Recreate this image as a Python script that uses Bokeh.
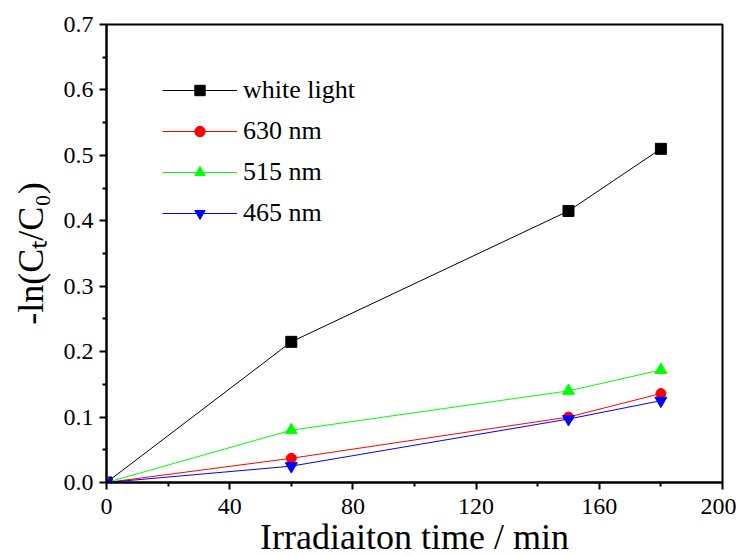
from bokeh.plotting import figure
from bokeh.models import Legend, LegendItem, FixedTicker, NumeralTickFormatter, Range1d
from bokeh.embed import file_html
from bokeh.resources import INLINE

time_min = [0, 60, 150, 180]
white_light = [0.0, 0.215, 0.415, 0.51]
nm630 = [0.0, 0.037, 0.10, 0.136]
nm515 = [0.0, 0.08, 0.14, 0.172]
nm465 = [0.0, 0.025, 0.097, 0.125]

x_ticks = [0, 40, 80, 120, 160, 200]
x_minor = [20, 60, 100, 140, 180]
y_ticks = [0.0, 0.1, 0.2, 0.3, 0.4, 0.5, 0.6, 0.7]
y_minor = [0.05, 0.15, 0.25, 0.35, 0.45, 0.55, 0.65]

FONT = "Liberation Serif"

p = figure(output_backend="svg", toolbar_location=None,
           frame_width=616, frame_height=458,
           min_border_left=106, min_border_top=24, min_border_right=14, min_border_bottom=50,
           x_range=Range1d(0, 200), y_range=Range1d(0, 0.7))
p.background_fill_color = "white"
p.border_fill_color = "white"
p.xgrid.visible = False
p.ygrid.visible = False
p.outline_line_color = "black"
p.outline_line_width = 2
p.outline_line_alpha = 1

for ax in (p.xaxis[0], p.yaxis[0]):
    ax.axis_line_width = 2
    ax.major_tick_line_width = 2
    ax.minor_tick_line_width = 2
    ax.major_tick_out = 7
    ax.major_tick_in = 0
    ax.minor_tick_out = 4
    ax.minor_tick_in = 0
    ax.major_label_text_font = FONT
    ax.major_label_text_font_size = "24px"
    ax.major_label_text_color = "black"
    ax.axis_label_text_font = FONT
    ax.axis_label_text_font_size = "36px"
    ax.axis_label_text_font_style = "normal"
    ax.axis_label_text_color = "black"
    ax.major_label_standoff = 6

p.xaxis[0].major_label_standoff = 9
p.xaxis[0].ticker = FixedTicker(ticks=x_ticks, minor_ticks=x_minor)
p.yaxis[0].ticker = FixedTicker(ticks=y_ticks, minor_ticks=y_minor)
p.yaxis[0].formatter = NumeralTickFormatter(format="0.0")
p.xaxis[0].axis_label = "Irradiaiton time / min"
p.yaxis[0].axis_label = "-ln(C\u209c/C\u2080)"
p.xaxis[0].axis_label_standoff = 0
p.yaxis[0].axis_label_standoff = 10

series = [
    ("white light", white_light, "black", "square", 11),
    ("630 nm", nm630, "red", "circle", 10),
    ("515 nm", nm515, "#00ff00", "triangle", 12),
    ("465 nm", nm465, "blue", "inverted_triangle", 12),
]
items = []
for name, ys, col, mk, sz in series:
    r1 = p.line(time_min, ys, line_color=col, line_width=1)
    r2 = p.scatter(time_min, ys, marker=mk, size=sz, fill_color=col, line_color=col)
    items.append(LegendItem(label=name, renderers=[r1, r2]))

legend = Legend(items=items, location=(56, 254), orientation="vertical")
legend.border_line_color = None
legend.background_fill_alpha = 0
legend.padding = 0
legend.margin = 0
legend.glyph_width = 75
legend.glyph_height = 26
legend.label_height = 26
legend.spacing = 11
legend.label_standoff = 6
legend.label_text_font = FONT
legend.label_text_font_size = "26px"
legend.label_text_color = "black"
p.add_layout(legend)

open("out.html", "w").write(file_html(p, INLINE))
